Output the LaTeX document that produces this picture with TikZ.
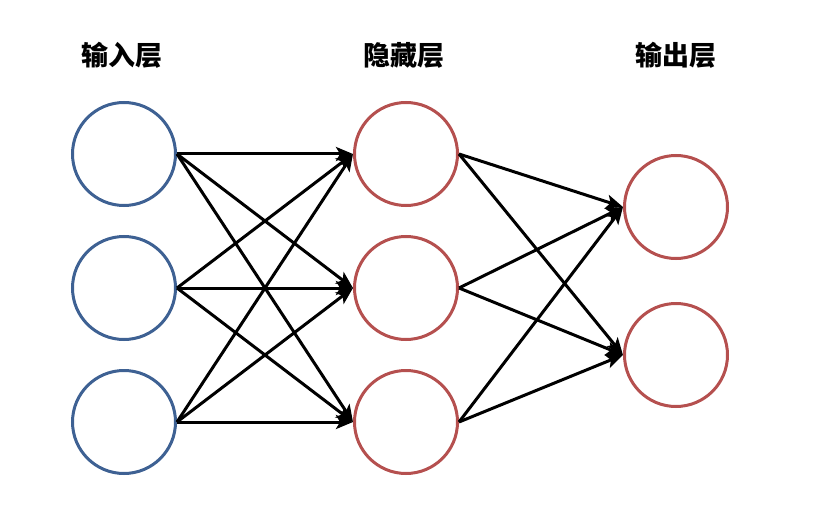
\documentclass[tikz,border=0pt]{standalone}
\usepackage{fontspec}
\newfontfamily\cjk{Noto Sans CJK SC}
\usetikzlibrary{arrows.meta}
\definecolor{inblue}{HTML}{3E6193}
\definecolor{hidred}{HTML}{B5504F}
\begin{document}
\begin{tikzpicture}[x=1pt,y=-1pt,
  neuron/.style={circle,draw,line width=3pt,minimum size=103pt,inner sep=0pt},
  inneuron/.style={neuron,draw=inblue},
  redneuron/.style={neuron,draw=hidred},
  conn/.style={line width=3pt,-{Stealth[length=17pt,width=14pt,inset=4pt]}},
  layerlabel/.style={font=\cjk\bfseries\fontsize{27}{29}\selectfont,text=black}]
\useasboundingbox (0,0) rectangle (830,508);
\node[inneuron] (i1) at (124,154) {};
\node[inneuron] (i2) at (124,288) {};
\node[inneuron] (i3) at (124,422) {};
\node[redneuron] (h1) at (406,154) {};
\node[redneuron] (h2) at (406,288) {};
\node[redneuron] (h3) at (406,422) {};
\node[redneuron] (o1) at (676,207) {};
\node[redneuron] (o2) at (676,355) {};
\node[layerlabel] (l1) at (122,55) {输入层};
\node[layerlabel] (l2) at (404,55) {隐藏层};
\node[layerlabel] (l3) at (676,55) {输出层};
\foreach \a in {i1,i2,i3}{
  \foreach \b in {h1,h2,h3}{
    \draw[conn] (\a.east) -- (\b.west);
  }
}
\foreach \a in {h1,h2,h3}{
  \foreach \b in {o1,o2}{
    \draw[conn] (\a.east) -- (\b.west);
  }
}
\end{tikzpicture}
\end{document}
